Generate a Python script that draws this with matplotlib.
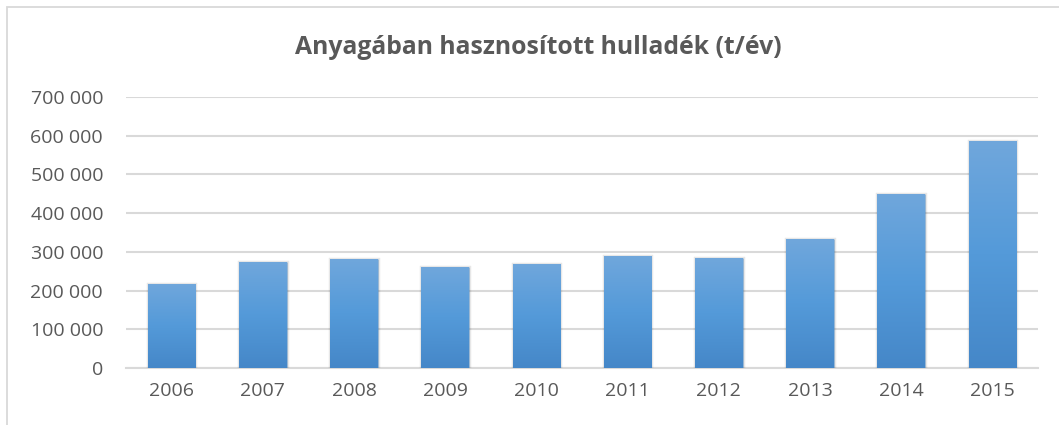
import matplotlib
matplotlib.use("Agg")
import matplotlib.pyplot as plt
import numpy as np
from matplotlib.patches import Rectangle
from matplotlib.colors import LinearSegmentedColormap
import matplotlib.patheffects as pe
from matplotlib.ticker import FuncFormatter

years = ["2006", "2007", "2008", "2009", "2010", "2011", "2012", "2013", "2014", "2015"]
values = [217000, 274000, 282000, 261000, 269000, 289000, 284000, 333000, 450000, 587000]
yticks = [0, 100000, 200000, 300000, 400000, 500000, 600000, 700000]
title = "Anyagában hasznosított hulladék (t/év)"

plt.rcParams['font.family'] = ['Open Sans', 'DejaVu Sans']
W, H = 1059, 425
fig = plt.figure(figsize=(W / 100, H / 100), dpi=100)
ax = fig.add_axes([126 / W, 1 - 368 / H, (1038 - 126) / W, (368 - 97) / H])

text_col = "#595959"
grid_col = "#d9d9d9"

x = np.arange(len(years))
bars = ax.bar(x, values, width=0.52, color="#5b9bd5", zorder=3,
              linewidth=2.5, edgecolor="#00000018",
              path_effects=[pe.SimplePatchShadow(offset=(0, -2), shadow_rgbFace="#000000", alpha=0.3),
                            pe.Normal()])

cmap = LinearSegmentedColormap.from_list("g", ["#4587c8", "#549ad9", "#70a7dc"])
grad = np.linspace(0, 1, 256).reshape(-1, 1)
for b in bars:
    x0, y0 = b.get_x(), b.get_y()
    w, h = b.get_width(), b.get_height()
    im = ax.imshow(grad, cmap=cmap, origin="lower", aspect="auto",
                   extent=(x0, x0 + w, y0, y0 + h), zorder=4)
    im.set_clip_path(b)

ax.set_xlim(-0.5, len(years) - 0.5)
ax.set_ylim(0, 700000)
ax.set_yticks(yticks)
ax.yaxis.set_major_formatter(FuncFormatter(lambda v, p: f"{int(v):,}".replace(",", " ")))
ax.set_xticks(x)
ax.set_xticklabels(years)
ax.grid(axis="y", color=grid_col, linewidth=1.5, zorder=0)
for s in ["top", "right", "left"]:
    ax.spines[s].set_visible(False)
ax.spines["bottom"].set_color(grid_col)
ax.spines["bottom"].set_linewidth(1.5)
ax.tick_params(axis="both", length=0, labelsize=14, labelcolor=text_col)
ax.tick_params(axis="y", pad=16.5)
ax.tick_params(axis="x", pad=10)

fig.text(0.508, 1 - 48 / H, title, ha="center", va="center", fontsize=17.8,
         fontweight="bold", color=text_col)

fig.patches.append(Rectangle((7 / W, -0.1), 1.2, 1 - 7 / H + 0.1, transform=fig.transFigure,
                             fill=False, edgecolor=grid_col, linewidth=1.3))

fig.savefig("out.png", dpi=100, facecolor="white")
